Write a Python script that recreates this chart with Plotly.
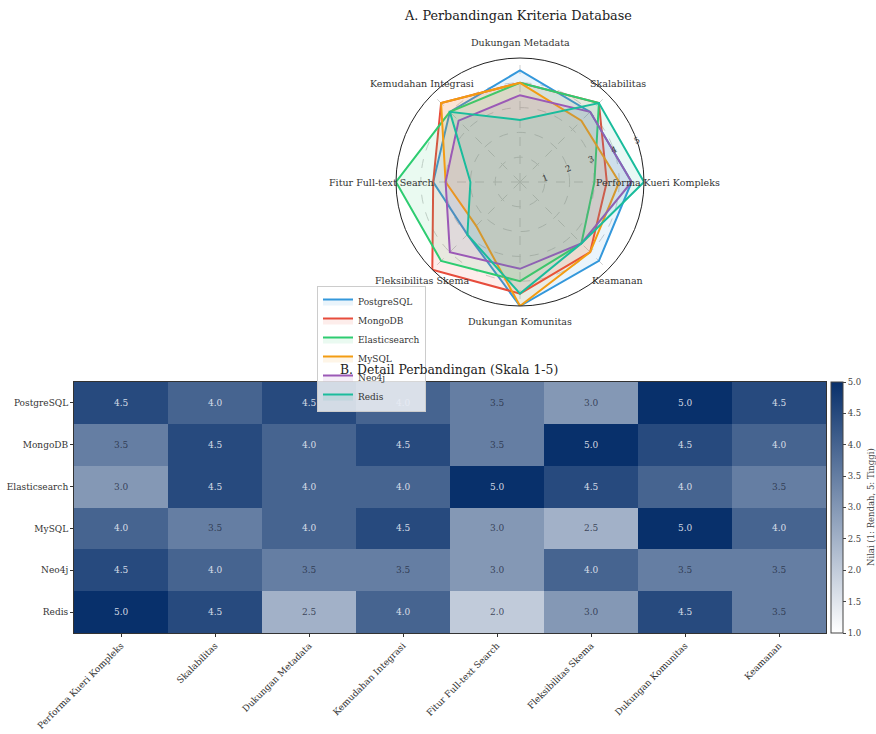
import math
import plotly.graph_objects as go

criteria = ["Performa Kueri Kompleks", "Skalabilitas", "Dukungan Metadata",
            "Kemudahan Integrasi", "Fitur Full-text Search", "Fleksibilitas Skema",
            "Dukungan Komunitas", "Keamanan"]
databases = ["PostgreSQL", "MongoDB", "Elasticsearch", "MySQL", "Neo4j", "Redis"]

postgresql = [4.5, 4.0, 4.5, 4.0, 3.5, 3.0, 5.0, 4.5]
mongodb = [3.5, 4.5, 4.0, 4.5, 3.5, 5.0, 4.5, 4.0]
elasticsearch = [3.0, 4.5, 4.0, 4.0, 5.0, 4.5, 4.0, 3.5]
mysql = [4.0, 3.5, 4.0, 4.5, 3.0, 2.5, 5.0, 4.0]
neo4j = [4.5, 4.0, 3.5, 3.5, 3.0, 4.0, 3.5, 3.5]
redis = [5.0, 4.5, 2.5, 4.0, 2.0, 3.0, 4.5, 3.5]

series = [postgresql, mongodb, elasticsearch, mysql, neo4j, redis]
colors = ["#3498db", "#e74c3c", "#2ecc71", "#f39c12", "#9b59b6", "#1abc9c"]
fills = ["rgba(52,152,219,0.1)", "rgba(231,76,60,0.1)", "rgba(46,204,113,0.1)",
         "rgba(243,156,18,0.1)", "rgba(155,89,182,0.1)", "rgba(26,188,156,0.1)"]
cbar_ticks = [1.0, 1.5, 2.0, 2.5, 3.0, 3.5, 4.0, 4.5, 5.0]

FONT = "DejaVu Serif"
W, H = 876, 734


def px(x):
    return x / W


def py(y):
    return 1 - y / H


fig = go.Figure()

for name, vals, c, fc in zip(databases, series, colors, fills):
    fig.add_trace(go.Scatterpolar(
        r=vals + vals[:1], theta=criteria + criteria[:1],
        mode="lines", name=name, fill="toself", fillcolor=fc,
        line=dict(color=c, width=2), subplot="polar"))

fig.add_trace(go.Heatmap(
    z=series, x=criteria, y=databases, zmin=1, zmax=5,
    colorscale=[[0, "#ffffff"], [1, "#08306b"]], showscale=True,
    hoverinfo="skip",
    colorbar=dict(x=px(831), xanchor="left", xpad=0, ypad=0,
                  y=py(633), yanchor="bottom",
                  len=251 / H, lenmode="fraction", thickness=12,
                  outlinewidth=1, outlinecolor="#444",
                  tickvals=cbar_ticks, ticktext=[f"{t:.1f}" for t in cbar_ticks],
                  ticks="outside", ticklen=3, tickfont=dict(size=8.5, color="#444")),
    xaxis="x", yaxis="y", showlegend=False))

annotations = []
for db, vals in zip(databases, series):
    for crit, v in zip(criteria, vals):
        annotations.append(dict(
            x=crit, y=db, xref="x", yref="y", text=f"{v:.1f}", showarrow=False,
            font=dict(size=9, family=FONT,
                      color="rgba(232,236,245,0.9)" if v >= 4 else "rgba(40,48,70,0.85)")))

# angular category labels placed around the radar like the reference
R = 124
cx, cy = 520, 182
for i, crit in enumerate(criteria):
    ang = 2 * math.pi * i / len(criteria)
    annotations.append(dict(
        text=crit, x=px(cx + 1.115 * R * math.cos(ang)),
        y=py(cy - 1.125 * R * math.sin(ang)),
        xref="paper", yref="paper", showarrow=False, xanchor="center", yanchor="middle",
        font=dict(size=9.5, family=FONT, color="#333")))

annotations.append(dict(text="A. Perbandingan Kriteria Database", x=px(518), y=py(15),
                        xref="paper", yref="paper", showarrow=False,
                        xanchor="center", yanchor="middle",
                        font=dict(size=12.8, family=FONT, color="#222")))
annotations.append(dict(text="B. Detail Perbandingan (Skala 1-5)", x=px(449), y=py(369),
                        xref="paper", yref="paper", showarrow=False,
                        xanchor="center", yanchor="middle",
                        font=dict(size=12.4, family=FONT, color="#222")))
annotations.append(dict(text="Nilai (1: Rendah, 5: Tinggi)", x=px(871), y=py(507),
                        xref="paper", yref="paper", showarrow=False, textangle=-90,
                        xanchor="center", yanchor="middle",
                        font=dict(size=8.5, family=FONT, color="#444")))

fig.update_layout(
    width=W, height=H, margin=dict(l=0, r=0, t=0, b=0, autoexpand=False),
    paper_bgcolor="white", plot_bgcolor="white",
    font=dict(family=FONT, size=9, color="#333"),
    polar=dict(
        domain=dict(x=[px(cx - R), px(cx + R)], y=[py(cy + R), py(cy - R)]),
        bgcolor="white",
        radialaxis=dict(range=[0, 5], tickvals=[1, 2, 3, 4, 5], angle=22.5,
                        tickangle=0, showline=False, ticks="",
                        gridcolor="#cfcfcf", griddash="dash", gridwidth=0.8,
                        tickfont=dict(size=8.5, color="#333")),
        angularaxis=dict(direction="counterclockwise", rotation=0,
                         showline=True, linecolor="#222", linewidth=1,
                         gridcolor="#cfcfcf", griddash="dash", gridwidth=0.8,
                         ticks="", showticklabels=False)),
    xaxis=dict(domain=[px(74), px(826)], anchor="y", tickangle=-45, ticks="outside",
               ticklen=3, tickcolor="#333", showline=True, linecolor="#333", mirror=True,
               tickfont=dict(size=9, color="#333"), showgrid=False, zeroline=False,
               automargin=False),
    yaxis=dict(domain=[py(633), py(382)], anchor="x", autorange="reversed",
               ticks="outside", ticklen=3, tickcolor="#333", showline=True, linecolor="#333",
               mirror=True, tickfont=dict(size=9, color="#333"), showgrid=False, zeroline=False,
               automargin=False),
    legend=dict(x=px(317), y=py(286), xanchor="left", yanchor="top",
                bgcolor="rgba(255,255,255,0.8)", bordercolor="#cccccc", borderwidth=1,
                font=dict(size=9, family=FONT, color="#333"), tracegroupgap=0,
                itemwidth=30),
    annotations=annotations,
)

fig.write_html("out.html", config={"displayModeBar": False},
               post_script="document.body.style.margin='0';document.body.style.overflow='hidden';")
